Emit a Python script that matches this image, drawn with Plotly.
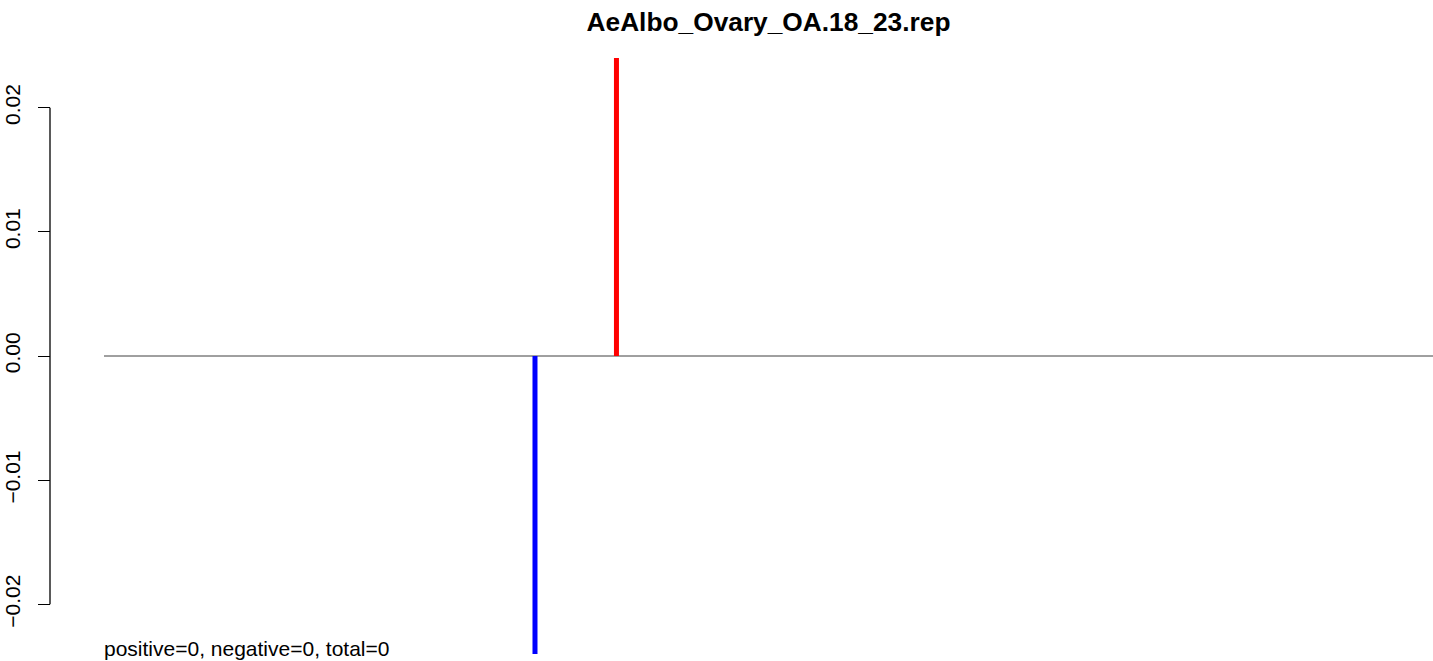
import plotly.graph_objects as go

# ---- data ----
title_text = "AeAlbo_Ovary_OA.18_23.rep"
positions = [324.3, 385.6]          # x positions of the spikes
values = [-0.024, 0.024]            # spike heights
colors = ["#0000ff", "#ff0000"]
x_range = [0, 1000]
y_range = [-0.024, 0.024]
tick_vals = [-0.02, -0.01, 0.0, 0.01, 0.02]
tick_text = ["\u22120.02", "\u22120.01", "0.00", "0.01", "0.02"]
footer = "positive=0, negative=0, total=0"

W, H = 1433, 661
ML, MR, MT, MB = 50, 0, 58, 7
plot_left = 104
d0 = (plot_left - ML) / (W - ML - MR)
FONT = "Liberation Sans, Arial, Helvetica, sans-serif"

fig = go.Figure()
for xp, v, c in zip(positions, values, colors):
    fig.add_trace(go.Scatter(x=[xp, xp], y=[0, v], mode="lines",
                             line=dict(color=c, width=5), hoverinfo="skip",
                             showlegend=False, cliponaxis=True))

# baseline at zero
fig.add_shape(type="line", xref="paper", yref="y", x0=d0, x1=1, y0=0, y1=0,
              line=dict(color="#404040", width=1), layer="below")
# R-style y axis line spanning ticks
fig.add_shape(type="line", xref="paper", yref="y", x0=0, x1=0,
              y0=min(tick_vals), y1=max(tick_vals),
              line=dict(color="black", width=1.3))

fig.add_annotation(text=footer, xref="paper", yref="paper", x=d0, y=0,
                   xanchor="left", yanchor="middle", yshift=6, xshift=-2, showarrow=False,
                   font=dict(family=FONT, size=21, color="black"))

fig.update_layout(
    width=W, height=H,
    margin=dict(l=ML, r=MR, t=MT, b=MB),
    paper_bgcolor="white", plot_bgcolor="white",
    title=dict(text="<b>" + title_text + "</b>", x=(d0 + 1) / 2, xanchor="center",
               xref="paper", y=1 - 22 / H, yanchor="middle",
               font=dict(family=FONT, size=26.3, color="black")),
    xaxis=dict(domain=[d0, 1], range=x_range, visible=False, showgrid=False, zeroline=False),
    yaxis=dict(range=y_range, anchor="free", position=0, showgrid=False, zeroline=False,
               showline=False, tickmode="array", tickvals=tick_vals, ticktext=tick_text,
               ticks="outside", ticklen=12, tickwidth=1.3, tickcolor="black",
               tickangle=-90, ticklabelstandoff=10,
               tickfont=dict(family=FONT, size=21, color="black")),
    font=dict(family=FONT),
)

fig.write_html("out.html", config={"displayModeBar": False},
               post_script="document.body.style.margin='0';document.body.style.overflow='hidden';")
